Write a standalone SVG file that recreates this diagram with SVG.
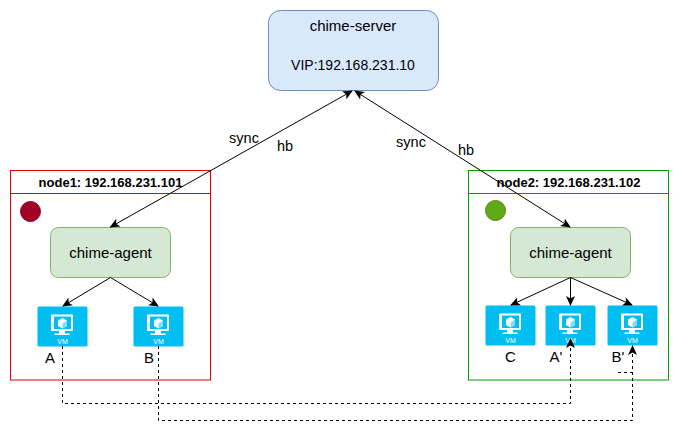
<svg xmlns="http://www.w3.org/2000/svg" width="679" height="432" viewBox="0 0 679 432">
<style>
text{font-family:"Liberation Sans",Arial,sans-serif;font-size:15px;fill:#000;text-anchor:middle}
.c{font-size:15px}
.v{font-size:14px}
.s{font-size:14.500px}
.h{font-size:13px;font-weight:bold}
.vl{font-size:7px;fill:#fff}
.line{fill:none;stroke:#000;stroke-width:1}
.dash{stroke-dasharray:3 3}
.agent{fill:#d5e8d4;stroke:#82b366}
.vmbg{fill:#00bef2}
.vmi{fill:#fff}
</style>
<defs>
<marker id="a" viewBox="0 0 10 10" refX="9" refY="5" markerWidth="10" markerHeight="10" orient="auto-start-reverse" markerUnits="userSpaceOnUse"><path d="M0 0.500L10 5L0 9.500L2.500 5Z" fill="#000"/></marker>
<g id="vm">
<rect class="vmbg" width="50" height="40" rx="1.500"/>
<path class="vmi" fill-rule="evenodd" d="M15.500 8h19a1 1 0 0 1 1 1v14.500a1 1 0 0 1-1 1h-7v2.500h4.500v1.500h-15v-1.500h4.500v-2.500h-7a1 1 0 0 1-1-1v-14.500a1 1 0 0 1 1-1zM16.500 10v12.500h17v-12.500z"/>
<path class="vmi" d="M25 11.500l4.500 2.500v5.500l-4.500 2.500l-4.500-2.500v-5.500z"/>
<path d="M25 17l4.500-3v5.500l-4.500 2.500z" fill="#7fdef8"/>
<text class="vl" x="25" y="37">VM</text>
</g>
</defs>
<g id="node1">
<rect x="10.500" y="170.500" width="200" height="209.500" fill="#fff" stroke="#e00000"/>
<path d="M10.500 193.500h200" stroke="#e00000" fill="none"/>
<text class="h" x="110.500" y="187">node1: 192.168.231.101</text>
<circle cx="30.500" cy="211.500" r="10" fill="#a20025" stroke="#8f0020"/>
</g>
<g id="node2">
<rect x="468.500" y="170.500" width="200" height="209.500" fill="#fff" stroke="#009900"/>
<path d="M468.500 193.500h200" stroke="#009900" fill="none"/>
<text class="h" x="568.500" y="187">node2: 192.168.231.102</text>
<circle cx="495.500" cy="210.500" r="10" fill="#60a917" stroke="#4d8a12"/>
</g>
<g id="server">
<rect x="268.500" y="10.500" width="170" height="80" rx="12" fill="#dae8fc" stroke="#6c8ebf"/>
<text class="c" x="353" y="31">chime-server</text>
<text class="v" x="353" y="70">VIP:192.168.231.10</text>
</g>
<g id="agent1">
<rect class="agent" x="50.500" y="227.500" width="120" height="50" rx="8"/>
<text class="c" x="110.500" y="258">chime-agent</text>
</g>
<g id="agent2">
<rect class="agent" x="510.500" y="227.500" width="120" height="50" rx="8"/>
<text class="c" x="570.500" y="258">chime-agent</text>
</g>
<g id="vmA"><use href="#vm" x="37.500" y="306.500"/></g>
<g id="vmB"><use href="#vm" x="133.500" y="306.500"/></g>
<g id="vmC"><use href="#vm" x="485.500" y="305.500"/></g>
<g id="vmA2"><use href="#vm" x="545.500" y="305.500"/></g>
<g id="vmB2"><use href="#vm" x="607.500" y="305.500"/></g>
<g id="connectors">
<path class="line" d="M352 91L110.500 227" marker-start="url(#a)" marker-end="url(#a)"/>
<path class="line" d="M355 91L570 227" marker-start="url(#a)" marker-end="url(#a)"/>
<path class="line" d="M110.500 277.500L63 306" marker-end="url(#a)"/>
<path class="line" d="M110.500 277.500L158 306" marker-end="url(#a)"/>
<path class="line" d="M570.500 277.500L511 305" marker-end="url(#a)"/>
<path class="line" d="M570.500 277.500V305" marker-end="url(#a)"/>
<path class="line" d="M570.500 277.500L632 305" marker-end="url(#a)"/>
<path class="line dash" d="M62.500 346V403.500H570.500V339" marker-end="url(#a)"/>
<path class="line dash" d="M158.500 346V420.500H632.500V346" marker-end="url(#a)"/>
<path class="line dash" d="M618 372.500H632"/>
</g>
<g id="labels">
<text class="s" x="244" y="143">sync</text>
<text class="s" x="285" y="151">hb</text>
<text class="s" x="411" y="147">sync</text>
<text class="s" x="466" y="155">hb</text>
<text x="50" y="363">A</text>
<text x="149" y="363">B</text>
<text x="510.500" y="362">C</text>
<text x="556" y="362">A'</text>
<text x="618" y="362">B'</text>
</g>
</svg>
